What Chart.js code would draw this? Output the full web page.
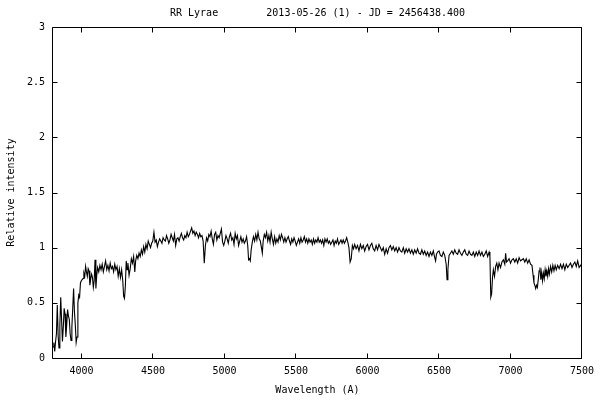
<!DOCTYPE html>
<html>
<head>
<meta charset="utf-8">
<script src="https://cdn.jsdelivr.net/npm/chart.js@4.4.1/dist/chart.umd.min.js"></script>
<style>
  body { margin: 0; background: #fff; }
  canvas { display: block; }
</style>
</head>
<body>
<canvas id="spectrum" width="600" height="400"></canvas>
<script>
// spectrum: wavelength (A) and relative intensity
const wavelength = [
  3800, 3806, 3812, 3818, 3824, 3830, 3836, 3842, 3848, 3854,
  3860, 3866, 3872, 3878, 3884, 3890, 3896, 3902, 3908, 3914,
  3920, 3926, 3932, 3938, 3944, 3950, 3956, 3962, 3968, 3974,
  3980, 3986, 3992, 3998, 4004, 4010, 4016, 4022, 4028, 4034,
  4040, 4046, 4052, 4058, 4064, 4070, 4076, 4082, 4088, 4094,
  4100, 4106, 4112, 4120, 4128, 4136, 4144, 4152, 4160, 4168,
  4176, 4184, 4192, 4200, 4208, 4216, 4224, 4232, 4240, 4248,
  4256, 4264, 4272, 4280, 4288, 4294, 4300, 4306, 4312, 4318,
  4324, 4332, 4340, 4348, 4356, 4364, 4372, 4378, 4386, 4394,
  4402, 4410, 4418, 4426, 4434, 4442, 4450, 4458, 4466, 4474,
  4482, 4490, 4498, 4506, 4514, 4522, 4530, 4538, 4546, 4554,
  4562, 4570, 4578, 4586, 4594, 4602, 4610, 4618, 4626, 4634,
  4642, 4650, 4658, 4666, 4674, 4682, 4690, 4698, 4706, 4714,
  4722, 4730, 4738, 4746, 4754, 4762, 4770, 4778, 4786, 4794,
  4802, 4810, 4818, 4826, 4834, 4842, 4850, 4858, 4866, 4874,
  4882, 4890, 4898, 4906, 4914, 4922, 4930, 4938, 4946, 4954,
  4962, 4970, 4978, 4986, 4994, 5002, 5010, 5018, 5026, 5034,
  5042, 5050, 5058, 5066, 5074, 5082, 5090, 5098, 5106, 5114,
  5122, 5130, 5138, 5146, 5154, 5162, 5168, 5174, 5180, 5186,
  5194, 5202, 5210, 5218, 5226, 5234, 5242, 5250, 5258, 5264,
  5270, 5278, 5286, 5294, 5302, 5310, 5318, 5326, 5334, 5342,
  5350, 5358, 5366, 5374, 5382, 5390, 5398, 5406, 5414, 5422,
  5430, 5438, 5446, 5454, 5462, 5470, 5478, 5486, 5494, 5502,
  5510, 5518, 5526, 5534, 5542, 5550, 5558, 5566, 5574, 5582,
  5590, 5598, 5606, 5614, 5622, 5630, 5638, 5646, 5654, 5662,
  5670, 5678, 5686, 5694, 5702, 5710, 5718, 5726, 5734, 5742,
  5750, 5758, 5766, 5774, 5782, 5790, 5798, 5806, 5814, 5822,
  5830, 5838, 5846, 5854, 5862, 5870, 5878, 5886, 5894, 5902,
  5910, 5920, 5930, 5940, 5950, 5960, 5970, 5980, 5990, 6000,
  6010, 6020, 6030, 6040, 6050, 6060, 6070, 6080, 6090, 6100,
  6110, 6120, 6130, 6140, 6150, 6160, 6170, 6180, 6190, 6200,
  6210, 6220, 6230, 6240, 6250, 6260, 6270, 6280, 6290, 6300,
  6310, 6320, 6330, 6340, 6350, 6360, 6370, 6380, 6390, 6400,
  6410, 6420, 6430, 6440, 6450, 6460, 6470, 6476, 6482, 6490,
  6500, 6510, 6520, 6530, 6540, 6550, 6556, 6562, 6570, 6580,
  6590, 6600, 6610, 6620, 6630, 6640, 6650, 6660, 6670, 6680,
  6690, 6700, 6710, 6720, 6730, 6740, 6750, 6760, 6770, 6780,
  6790, 6800, 6810, 6820, 6830, 6840, 6850, 6856, 6862, 6868,
  6874, 6880, 6888, 6896, 6904, 6912, 6920, 6930, 6940, 6950,
  6960, 6966, 6972, 6980, 6990, 7000, 7010, 7020, 7030, 7040,
  7050, 7060, 7070, 7080, 7090, 7100, 7110, 7120, 7130, 7140,
  7150, 7158, 7164, 7170, 7176, 7182, 7188, 7194, 7200, 7206,
  7212, 7218, 7224, 7230, 7236, 7242, 7248, 7254, 7260, 7266,
  7272, 7280, 7288, 7296, 7304, 7312, 7320, 7330, 7340, 7350,
  7360, 7370, 7380, 7390, 7400, 7410, 7420, 7430, 7440, 7450,
  7460, 7470, 7480, 7490, 7500
];
const intensity = [
  0.10, 0.14, 0.06, 0.15, 0.22, 0.48, 0.20, 0.09, 0.30, 0.55,
  0.35, 0.15, 0.28, 0.45, 0.40, 0.19, 0.30, 0.44, 0.38, 0.35,
  0.22, 0.16, 0.28, 0.45, 0.63, 0.42, 0.30, 0.14, 0.19, 0.50,
  0.57, 0.55, 0.68, 0.70, 0.71, 0.72, 0.77, 0.74, 0.83, 0.78,
  0.74, 0.81, 0.79, 0.66, 0.72, 0.76, 0.73, 0.64, 0.70, 0.89,
  0.63, 0.75, 0.82, 0.78, 0.84, 0.80, 0.85, 0.78, 0.83, 0.88,
  0.80, 0.84, 0.79, 0.86, 0.81, 0.83, 0.78, 0.85, 0.80, 0.83,
  0.74, 0.81, 0.73, 0.80, 0.70, 0.56, 0.54, 0.65, 0.88, 0.80,
  0.86, 0.75, 0.81, 0.90, 0.86, 0.92, 0.78, 0.88, 0.93, 0.90,
  0.95, 0.92, 0.98, 0.94, 1.01, 0.96, 1.03, 0.99, 1.06, 1.03,
  1.00, 1.04, 1.06, 1.14, 1.05, 1.07, 1.01, 1.05, 1.08, 1.06,
  1.04, 1.09, 1.07, 1.06, 1.11, 1.08, 1.04, 1.07, 1.12, 1.09,
  1.06, 1.12, 1.02, 1.08, 1.09, 1.06, 1.10, 1.13, 1.09, 1.07,
  1.11, 1.09, 1.14, 1.10, 1.12, 1.15, 1.18, 1.13, 1.15, 1.11,
  1.14, 1.12, 1.09, 1.13, 1.10, 1.11, 1.06, 0.86, 1.02, 1.09,
  1.06, 1.12, 1.10, 1.15, 1.08, 1.03, 1.12, 1.14, 1.07, 1.11,
  1.09, 1.13, 1.17, 1.05, 1.02, 1.06, 1.11, 1.08, 1.04, 1.10,
  1.13, 1.07, 1.09, 1.03, 1.13, 1.08, 1.11, 1.02, 1.06, 1.10,
  1.05, 1.08, 1.04, 1.06, 1.10, 1.02, 0.89, 0.90, 0.88, 0.98,
  1.05, 1.10, 1.06, 1.12, 1.07, 1.14, 1.08, 1.06, 1.00, 0.95,
  1.06, 1.12, 1.09, 1.14, 1.06, 1.11, 1.05, 1.14, 1.08, 1.03,
  1.10, 1.04, 1.08, 1.05, 1.11, 1.07, 1.12, 1.09, 1.05, 1.09,
  1.05, 1.08, 1.10, 1.06, 1.03, 1.08, 1.05, 1.09, 1.06, 1.02,
  1.05, 1.08, 1.04, 1.09, 1.05, 1.07, 1.10, 1.05, 1.08, 1.04,
  1.08, 1.05, 1.07, 1.03, 1.08, 1.04, 1.07, 1.05, 1.09, 1.05,
  1.07, 1.04, 1.07, 1.02, 1.08, 1.05, 1.08, 1.04, 1.06, 1.03,
  1.05, 1.07, 1.02, 1.06, 1.04, 1.08, 1.03, 1.05, 1.07, 1.04,
  1.07, 1.04, 1.06, 1.09, 1.05, 1.00, 0.87, 0.90, 1.02, 0.99,
  1.03, 0.99, 1.02, 0.97, 1.03, 0.99, 1.02, 0.97, 1.01, 1.03,
  0.98, 1.02, 1.04, 0.99, 0.97, 1.02, 0.98, 1.03, 1.00, 0.97,
  1.00, 0.94, 0.99, 0.95, 1.00, 1.02, 0.98, 1.01, 0.97, 1.00,
  0.96, 1.00, 0.97, 0.96, 1.00, 0.95, 0.99, 0.96, 0.99, 0.95,
  0.98, 0.94, 0.98, 0.95, 0.99, 0.95, 0.94, 0.98, 0.94, 0.97,
  0.93, 0.96, 0.92, 0.96, 0.93, 0.97, 0.91, 0.88, 0.94, 0.96,
  0.97, 0.93, 0.92, 0.96, 0.93, 0.85, 0.71, 0.80, 0.93, 0.95,
  0.97, 0.94, 0.98, 0.95, 0.94, 0.98, 0.95, 0.93, 0.96, 0.98,
  0.94, 0.93, 0.97, 0.94, 0.93, 0.96, 0.92, 0.96, 0.93, 0.97,
  0.93, 0.96, 0.92, 0.94, 0.97, 0.92, 0.96, 0.92, 0.55, 0.58,
  0.73, 0.80, 0.74, 0.83, 0.86, 0.80, 0.86, 0.82, 0.87, 0.89,
  0.85, 0.95, 0.87, 0.88, 0.90, 0.86, 0.89, 0.90, 0.87, 0.90,
  0.86, 0.91, 0.88, 0.89, 0.90, 0.87, 0.90, 0.86, 0.89, 0.85,
  0.84, 0.75, 0.68, 0.66, 0.63, 0.66, 0.64, 0.71, 0.79, 0.82,
  0.71, 0.78, 0.70, 0.77, 0.72, 0.80, 0.74, 0.79, 0.74, 0.81,
  0.76, 0.83, 0.78, 0.84, 0.79, 0.84, 0.80, 0.84, 0.81, 0.85,
  0.81, 0.85, 0.80, 0.85, 0.82, 0.84, 0.86, 0.82, 0.85, 0.87,
  0.83, 0.88, 0.82, 0.84, 0.82
];

const xTicks = [4000, 4500, 5000, 5500, 6000, 6500, 7000, 7500];
const yTicks = [0, 0.5, 1, 1.5, 2, 2.5, 3];

const chartTitle = 'RR Lyrae        2013-05-26 (1) - JD = 2456438.400';
const font = { family: '"DejaVu Sans Mono", monospace', size: 10, weight: 'normal' };

// gnuplot look: plain frame, ticks pointing inwards on all four sides
const gnuplotFrame = {
  id: 'gnuplotFrame',
  afterDraw(chart) {
    const { ctx, chartArea: a } = chart;
    const x = chart.scales.x, y = chart.scales.y;
    const len = 5;
    const L = a.left - 0.5, R = a.right - 0.5, T = a.top + 0.5, B = a.bottom + 0.5;
    ctx.save();
    ctx.strokeStyle = '#000';
    ctx.lineWidth = 1;
    ctx.beginPath();
    ctx.rect(L, T, R - L, B - T);
    xTicks.forEach(v => {
      const px = Math.round(x.getPixelForValue(v)) - 0.5;
      ctx.moveTo(px, B); ctx.lineTo(px, B - len);
      ctx.moveTo(px, T); ctx.lineTo(px, T + len);
    });
    yTicks.forEach(v => {
      const py = Math.round(y.getPixelForValue(v)) + 0.5;
      ctx.moveTo(L, py); ctx.lineTo(L + len, py);
      ctx.moveTo(R, py); ctx.lineTo(R - len, py);
    });
    ctx.stroke();
    ctx.restore();
  }
};

Chart.defaults.color = '#000';
Chart.defaults.font = font;

new Chart(document.getElementById('spectrum'), {
  type: 'line',
  data: {
    datasets: [{
      data: wavelength.map((w, i) => ({ x: w, y: intensity[i] })),
      borderColor: '#000',
      borderWidth: 1.1,
      pointRadius: 0,
      tension: 0,
      fill: false
    }]
  },
  options: {
    responsive: false,
    devicePixelRatio: 1,
    animation: false,
    events: [],
    layout: { padding: { left: 0, right: 18, top: 0, bottom: 0 } },
    plugins: {
      legend: { display: false },
      tooltip: { enabled: false },
      title: {
        display: true,
        text: chartTitle,
        fullSize: false,
        color: '#000',
        font: font,
        padding: { top: 7, bottom: 8 }
      }
    },
    scales: {
      x: {
        type: 'linear',
        min: 3800,
        max: 7500,
        grid: { display: false, drawTicks: false },
        border: { display: false },
        afterBuildTicks: s => { s.ticks = xTicks.map(v => ({ value: v })); },
        ticks: { padding: 7, maxRotation: 0, autoSkip: false, font: font, callback: v => String(v) },
        title: { display: true, text: 'Wavelength (A)', font: font, padding: { top: 0, bottom: 4 } },
        afterFit: s => { s.height = 42; s.paddingLeft = 0; s.paddingRight = 0; }
      },
      y: {
        min: 0,
        max: 3,
        grid: { display: false, drawTicks: false },
        border: { display: false },
        afterBuildTicks: s => { s.ticks = yTicks.map(v => ({ value: v })); },
        ticks: { padding: 8, autoSkip: false, font: font, callback: v => String(v) },
        title: { display: true, text: 'Relative intensity', font: font, padding: { top: 5, bottom: 0 } },
        afterFit: s => { s.width = 53; s.paddingTop = 0; s.paddingBottom = 0; }
      }
    }
  },
  plugins: [gnuplotFrame]
});
</script>
</body>
</html>
